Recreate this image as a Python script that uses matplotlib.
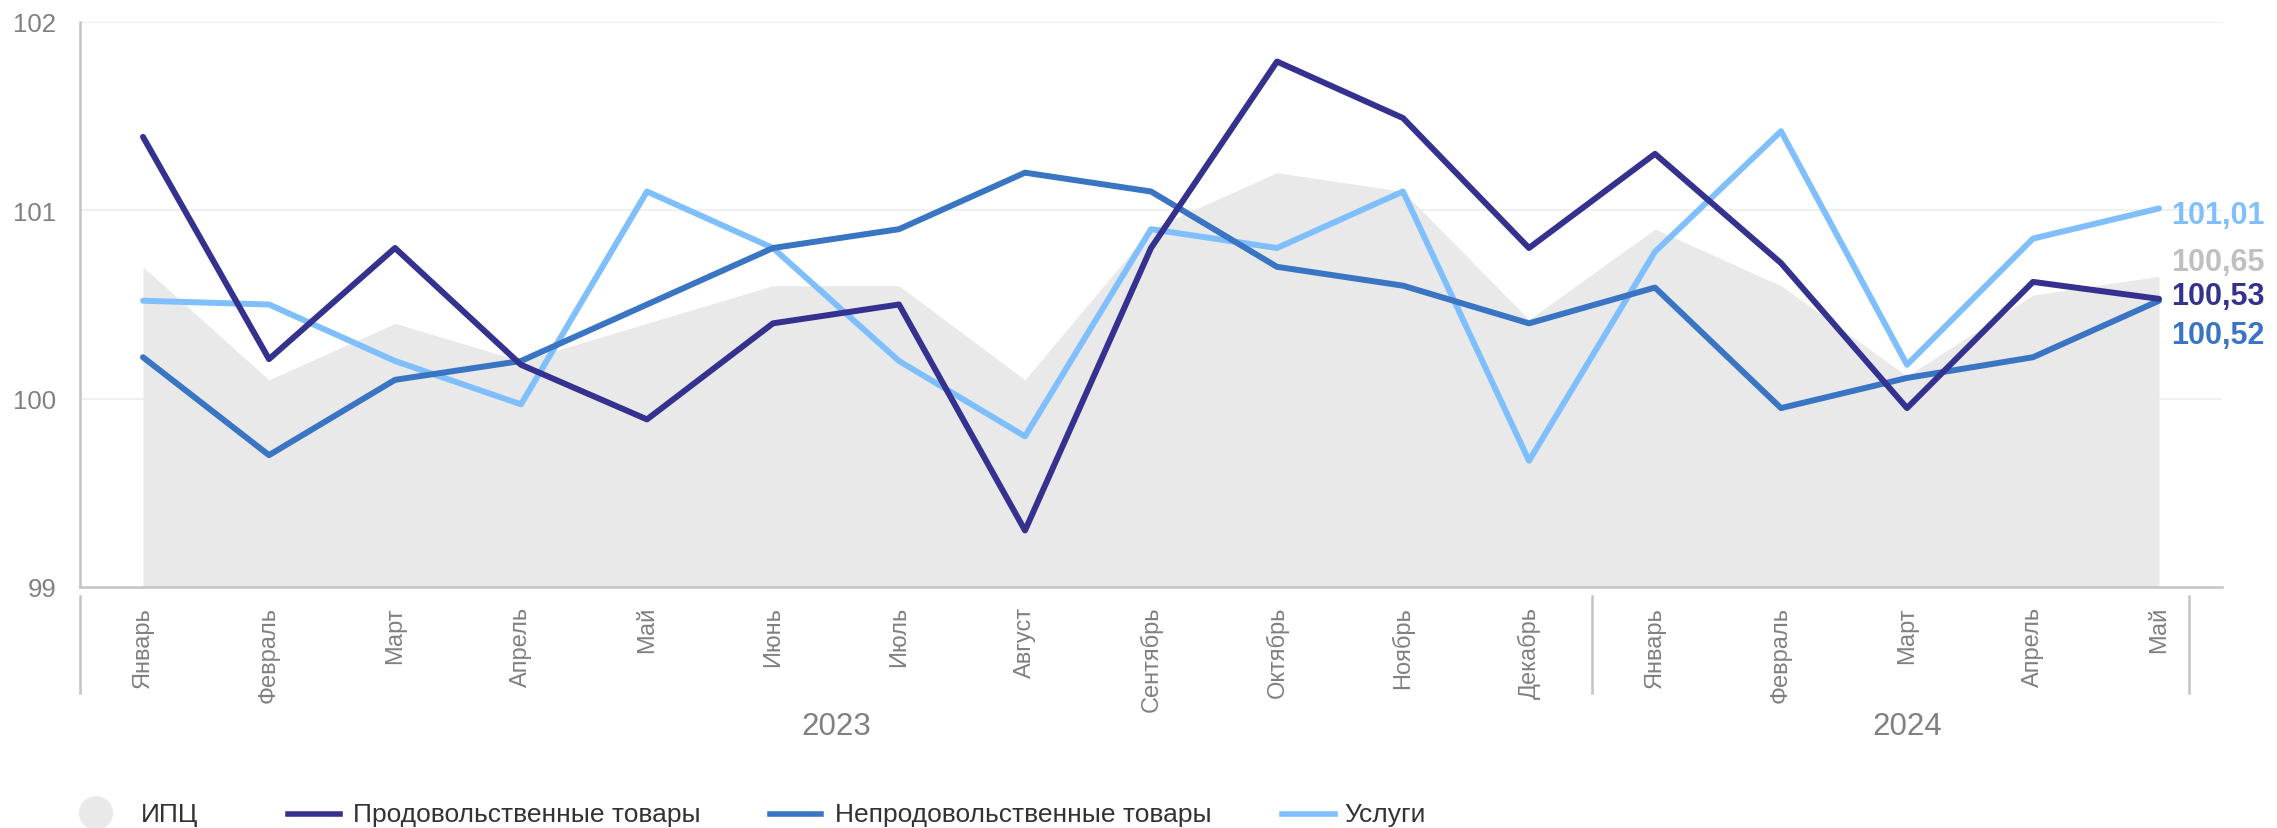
import matplotlib
matplotlib.use("Agg")
import matplotlib.pyplot as plt
from matplotlib.lines import Line2D
from matplotlib.patches import Ellipse

plt.rcParams['font.family'] = ['Liberation Sans', 'DejaVu Sans']

months = ["Январь", "Февраль", "Март", "Апрель", "Май", "Июнь", "Июль", "Август",
          "Сентябрь", "Октябрь", "Ноябрь", "Декабрь",
          "Январь", "Февраль", "Март", "Апрель", "Май"]
years = ["2023", "2024"]
cpi = [100.70, 100.10, 100.40, 100.20, 100.40, 100.60, 100.60, 100.10, 100.90,
       101.20, 101.10, 100.42, 100.90, 100.60, 100.12, 100.55, 100.65]
food = [101.39, 100.21, 100.80, 100.18, 99.89, 100.40, 100.50, 99.30, 100.80,
        101.79, 101.49, 100.80, 101.30, 100.72, 99.95, 100.62, 100.53]
nonfood = [100.22, 99.70, 100.10, 100.20, 100.50, 100.80, 100.90, 101.20, 101.10,
           100.70, 100.60, 100.40, 100.59, 99.95, 100.11, 100.22, 100.52]
services = [100.52, 100.50, 100.20, 99.97, 101.10, 100.80, 100.20, 99.80, 100.90,
            100.80, 101.10, 99.67, 100.78, 101.42, 100.18, 100.85, 101.01]
end_labels = ["101,01", "100,65", "100,53", "100,52"]
legend_names = ["ИПЦ", "Продовольственные товары", "Непродовольственные товары", "Услуги"]

C_CPI = "#E9E9E9"
C_FOOD = "#35318F"
C_NONFOOD = "#3A75C4"
C_SERV = "#80BFFD"
C_TXT = "#808080"
C_AX = "#C4C4C4"

W, H = 2277, 829
TOP, BOT = 23, 588
AH = BOT - TOP
fig = plt.figure(figsize=(W / 100, H / 100), dpi=100)
ax = fig.add_axes([80 / W, 1 - BOT / H, (2222 - 80) / W, AH / H])

x = list(range(len(months)))
ax.fill_between(x, 99, cpi, color=C_CPI, lw=0, zorder=1)
kw = dict(lw=4.3, solid_joinstyle='round', solid_capstyle='round')
ax.plot(x, services, color=C_SERV, zorder=2, **kw)
ax.plot(x, nonfood, color=C_NONFOOD, zorder=3, **kw)
ax.plot(x, food, color=C_FOOD, zorder=4, **kw)

ax.set_xlim(-0.5, 16.5)
ax.set_ylim(99, 102)
ax.set_yticks([99, 100, 101, 102])
ax.set_yticklabels(["99", "100", "101", "102"])
ax.tick_params(axis='y', length=0, pad=17, labelsize=18.5, labelcolor=C_TXT)
ax.set_xticks([])
for y in [100, 101, 102]:
    ax.axhline(y, color="#EDEDED", lw=1.2, zorder=0)
for s in ['top', 'right']:
    ax.spines[s].set_visible(False)
ax.spines['left'].set_color(C_AX)
ax.spines['left'].set_linewidth(1.8)
ax.spines['bottom'].set_color(C_AX)
ax.spines['bottom'].set_linewidth(1.8)

xt = ax.get_xaxis_transform()
for i, m in enumerate(months):
    ax.text(i, -(607 - BOT) / AH, m, transform=xt, rotation=90, ha='center', va='top',
            fontsize=17, color=C_TXT)
for xs in [-0.5, 11.5, 16.24]:
    ax.plot([xs, xs], [-(597 - BOT) / AH, -(694 - BOT) / AH], transform=xt,
            color=C_AX, lw=1.8, clip_on=False)
yy = -(727 - BOT) / AH
ax.text(5.5, yy, years[0], transform=xt, ha='center', va='center', fontsize=22.5, color=C_TXT)
ax.text(14.0, yy, years[1], transform=xt, ha='center', va='center', fontsize=22.5, color=C_TXT)

last = len(months) - 1
vals = [services[last], cpi[last], food[last], nonfood[last]]
cols = [C_SERV, "#C0C0C0", C_FOOD, C_NONFOOD]
dys = [-4.8, 10.4, 1.8, -24.5]
for lab, v, c, dy in zip(end_labels, vals, cols, dys):
    ax.annotate(lab, xy=(last, v), xytext=(9, dy), textcoords='offset points',
                ha='left', va='center', fontsize=22, fontweight='bold', color=c,
                annotation_clip=False)

# legend
ly = 1 - 815 / H
fig.add_artist(Ellipse((96 / W, 1 - 814 / H), 34 / W, 34 / H, transform=fig.transFigure,
                       color=C_CPI, lw=0))
fig.text(141 / W, ly, legend_names[0], fontsize=19, color="#333333", va='center', ha='left')
for (x0, x1, tx), name, c in zip([(288, 340, 353), (770, 821, 835), (1282, 1335, 1344)],
                                 legend_names[1:], [C_FOOD, C_NONFOOD, C_SERV]):
    fig.add_artist(Line2D([x0 / W, x1 / W], [ly, ly], transform=fig.transFigure, color=c, lw=4))
    fig.text(tx / W, ly, name, fontsize=19, color="#333333", va='center', ha='left')

fig.savefig("out.png", dpi=100)
